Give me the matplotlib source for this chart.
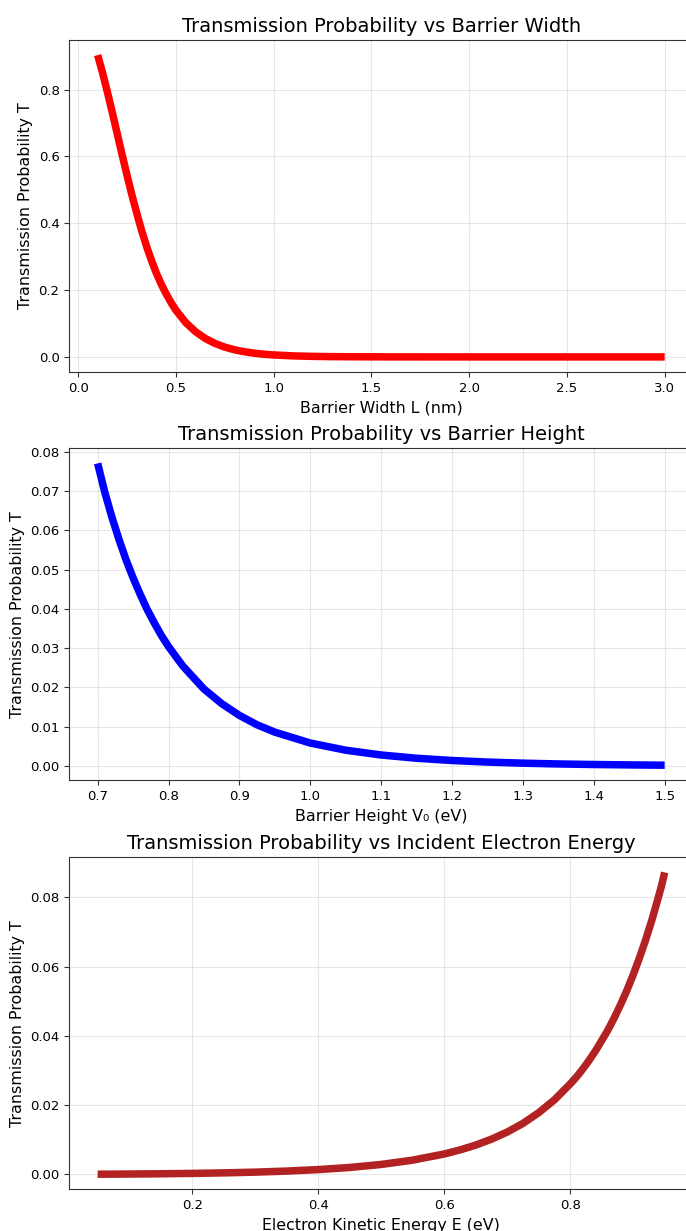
import matplotlib
matplotlib.use("Agg")
import matplotlib.pyplot as plt

# Panel 1: barrier width
width_nm = [0.100, 0.125, 0.150, 0.175, 0.200, 0.225, 0.250, 0.275, 0.300, 0.325,
            0.350, 0.375, 0.400, 0.425, 0.450, 0.475, 0.500, 0.550, 0.600, 0.650,
            0.700, 0.750, 0.800, 0.850, 0.900, 0.950, 1.000, 1.100, 1.200, 1.300,
            1.400, 1.600, 1.800, 2.000, 2.500, 3.000]
T_width = [0.903, 0.850, 0.792, 0.731, 0.668, 0.605, 0.544, 0.485, 0.430, 0.378,
           0.331, 0.289, 0.251, 0.218, 0.189, 0.163, 0.140, 0.103, 0.0758, 0.0554,
           0.0404, 0.0293, 0.0213, 0.0155, 0.0112, 0.0081, 0.00587, 0.00308, 0.00161,
           0.00084, 0.00044, 0.00012, 0.00003, 0.00001, 0.0, 0.0]

# Panel 2: barrier height
height_eV = [0.700, 0.710, 0.720, 0.730, 0.740, 0.750, 0.760, 0.770, 0.780, 0.790,
             0.800, 0.820, 0.850, 0.875, 0.900, 0.925, 0.950, 1.000, 1.050, 1.100,
             1.150, 1.200, 1.250, 1.300, 1.350, 1.400, 1.450, 1.500]
T_height = [0.0770, 0.0697, 0.0634, 0.0577, 0.0525, 0.0479, 0.0437, 0.0398, 0.0364,
            0.0332, 0.0304, 0.0255, 0.0196, 0.0159, 0.0129, 0.0105, 0.00864, 0.00587,
            0.00405, 0.00283, 0.0020, 0.00143, 0.00103, 0.00075, 0.00055, 0.00041,
            0.00031, 0.00023]

# Panel 3: electron energy
energy_eV = [0.050, 0.100, 0.150, 0.200, 0.250, 0.300, 0.350, 0.400, 0.450, 0.500,
             0.550, 0.600, 0.625, 0.650, 0.675, 0.700, 0.725, 0.750, 0.775, 0.800,
             0.810, 0.820, 0.830, 0.840, 0.850, 0.860, 0.870, 0.880, 0.890, 0.900,
             0.910, 0.920, 0.930, 0.940, 0.945, 0.950]
T_energy = [0.000035, 0.000087, 0.000161, 0.000268, 0.00042, 0.000635, 0.00094,
            0.00137, 0.00198, 0.00285, 0.0041, 0.00587, 0.00704, 0.00844, 0.01015,
            0.0122, 0.0147, 0.0178, 0.0215, 0.0261, 0.0281, 0.0304, 0.0329, 0.0356,
            0.0386, 0.0417, 0.0452, 0.0490, 0.0531, 0.0576, 0.0625, 0.0678, 0.0736,
            0.0800, 0.0833, 0.0872]

titles = ["Transmission Probability vs Barrier Width",
          "Transmission Probability vs Barrier Height",
          "Transmission Probability vs Incident Electron Energy"]
xlabels = ["Barrier Width L (nm)", "Barrier Height V\u2080 (eV)",
           "Electron Kinetic Energy E (eV)"]
ylabel = "Transmission Probability T"
colors = ["#ff0000", "#0000ff", "#b22222"]

fig = plt.figure(figsize=(6.86, 12.31), dpi=100)
left = 69.3 / 686
width = (693 - 69.3) / 686
h = 332 / 1231
bottoms = [1 - 372 / 1231, 1 - 780.3 / 1231, 1 - 1189.3 / 1231]

series = [(width_nm, T_width), (height_eV, T_height), (energy_eV, T_energy)]
for i, (xs, ys) in enumerate(series):
    ax = fig.add_axes([left, bottoms[i], width, h])
    ax.plot(xs, ys, color=colors[i], linewidth=5.4, solid_capstyle="butt",
            solid_joinstyle="round")
    ax.set_title(titles[i], fontsize=14)
    ax.set_xlabel(xlabels[i], fontsize=11.4)
    ax.set_ylabel(ylabel, fontsize=11.4)
    ax.tick_params(labelsize=9.5, color="#333333")
    ax.grid(True, color="#b0b0b0", alpha=0.3, linewidth=0.8)
    for s in ax.spines.values():
        s.set_color("#333333")

fig.savefig("out.png", dpi=100)
